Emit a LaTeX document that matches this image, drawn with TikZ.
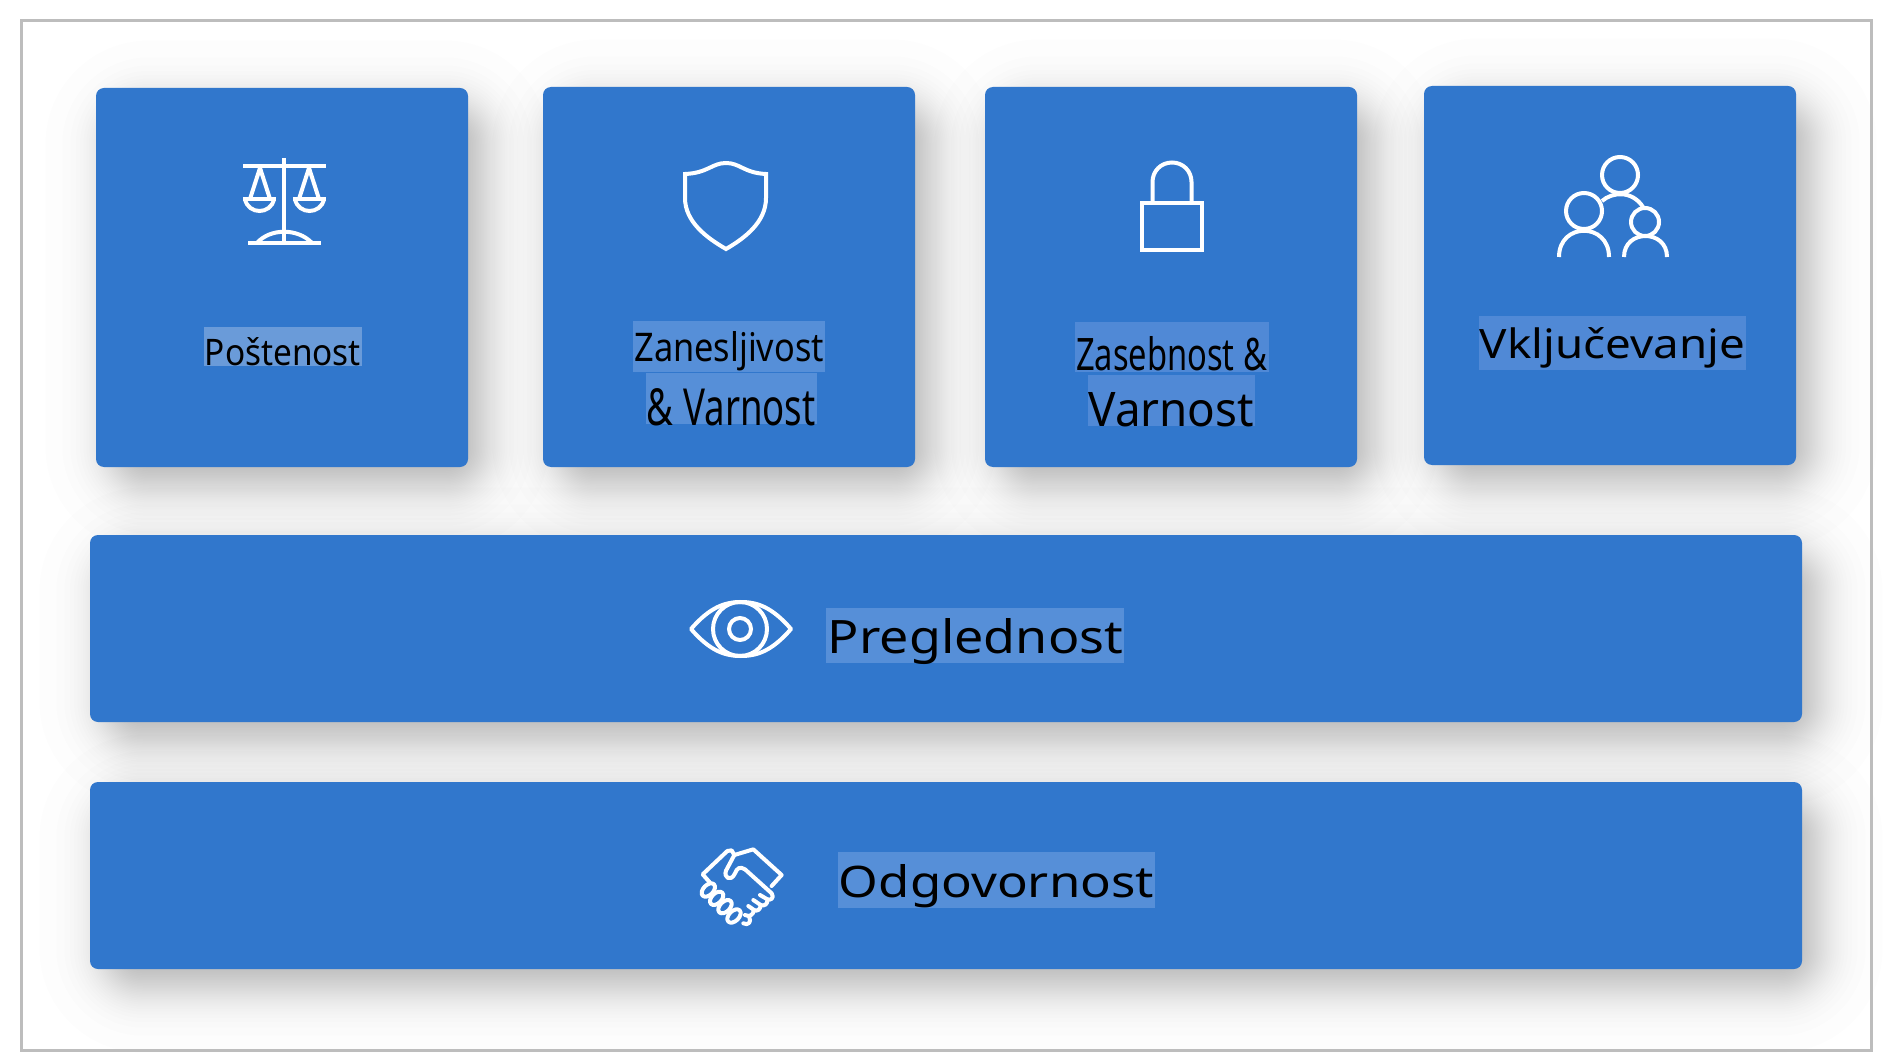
\documentclass[tikz,border=0pt]{standalone}
\usepackage{graphicx}
\usepackage{fontspec}
\setmainfont{Noto Sans}
\definecolor{cardblue}{HTML}{3177CC}
\definecolor{framegray}{HTML}{BDBDBD}
\definecolor{hlA}{HTML}{6A9BD9}
\definecolor{hlB}{HTML}{568FD8}
\definecolor{hlC}{HTML}{5089D6}
\tikzset{
  card/.style={fill=cardblue,draw=none,rounded corners=8pt,inner sep=0pt,outer sep=0pt},
  icon/.style={draw=white,line width=4pt,fill=none},
  lbl/.style={inner sep=0pt,outer sep=0pt,anchor=base,text=black},
}
% x0 y0 x1 y1
\newcommand\softshadow[4]{%
  \foreach \i in {1,...,40}{%
    \pgfmathsetmacro\e{15*ln((\i-0.5)/(40.5-\i))}%
    \pgfmathsetmacro\r{max(3,38+\e)}%
    \fill[black,opacity=0.0075,rounded corners=\r pt]
      ({#1+15-\e},{#2+18-\e}) rectangle ({#3+15+\e},{#4+18+\e});
  }%
}
% name x0 y0 x1 y1
\newcommand\cardbox[5]{%
  \node[card,minimum width={#4-#2},minimum height={#5-#3}] (#1) at ({(#2+#4)/2},{(#3+#5)/2}) {};%
}
% name colour x0 y0 x1 y1 (highlight)
\newcommand\hilite[6]{%
  \node[fill=#2,inner sep=0pt,outer sep=0pt,minimum width={#5-#3},minimum height={#6-#4}] (#1) at ({(#3+#5)/2},{(#4+#6)/2}) {};%
}
% name x0 x1 top baseline text
\newcommand\fittext[6]{%
  \pgfmathsetmacro\tw{#3-#2}\pgfmathsetmacro\th{#5-#4}%
  \node[lbl] (#1) at ({(#2+#3)/2},#5) {\resizebox{\tw pt}{\th pt}{#6}};%
}
\begin{document}
\begin{tikzpicture}[x=1pt,y=-1pt]
\useasboundingbox (0,0) rectangle (1892,1064);
\fill[white] (0,0) rectangle (1892,1064);
% shadows
\softshadow{96}{88}{468}{467}
\softshadow{543}{87}{915}{467}
\softshadow{985}{87}{1357}{467}
\softshadow{1424}{86}{1796}{465}
\softshadow{90}{535}{1802}{722}
\softshadow{90}{782}{1802}{969}
% frame
\node[draw=framegray,line width=3pt,inner sep=0pt,minimum width=1850pt,minimum height=1030pt] (frame) at (946.5,535.5) {};
% cards
\cardbox{c1}{96}{88}{468}{467}
\cardbox{c2}{543}{87}{915}{467}
\cardbox{c3}{985}{87}{1357}{467}
\cardbox{c4}{1424}{86}{1796}{465}
\cardbox{b1}{90}{535}{1802}{722}
\cardbox{b2}{90}{782}{1802}{969}
% highlights
\hilite{h1}{hlA}{204}{327}{362}{366}
\hilite{h2a}{hlB}{633}{321}{825}{372}
\hilite{h2b}{hlB}{646}{373}{817}{424}
\hilite{h3a}{hlC}{1075}{322}{1269}{372}
\hilite{h3b}{hlC}{1088}{375}{1255}{426}
\hilite{h4}{hlC}{1479}{316}{1746}{370}
\hilite{h5}{hlB}{826}{608}{1124}{663}
\hilite{h6}{hlB}{838}{852}{1155}{908}
% labels
\fittext{t1}{205}{361}{338}{366}{Poštenost}
\fittext{t2a}{634.5}{824}{332}{362}{Zanesljivost}
\fittext{t2b}{647}{815.5}{388}{425}{\& Varnost}
\fittext{t3a}{1076}{1267}{336}{370}{Zasebnost \&}
\fittext{t3b}{1088.5}{1254}{392}{426}{Varnost}
\fittext{t4}{1480}{1745}{328}{359}{Vključevanje}
\fittext{t5}{828}{1123}{618}{653}{Preglednost}
\fittext{t6}{839}{1154}{864}{897}{Odgovornost}
% scales
\begin{scope}[icon,line cap=butt]
  \draw (284,158) -- (284,243);
  \draw (243,166) -- (326,166);
  \draw (260,168) -- (250,199);
  \draw (260,168) -- (270,199);
  \draw (243,199) -- (276,199);
  \draw (245,199) .. controls (248,215) and (271,215) .. (274,199);
  \draw (309,168) -- (299,199);
  \draw (309,168) -- (319,199);
  \draw (293,199) -- (326,199);
  \draw (295,199) .. controls (298,215) and (321,215) .. (324,199);
  \draw (248,243) -- (321,243);
  \draw (257,243) .. controls (270,228) and (298,228) .. (312,243);
\end{scope}
% shield
\draw[icon,miter limit=10] (685,174) .. controls (708,173) and (712,163) .. (726,163)
  .. controls (740,163) and (744,173) .. (766,174) -- (766,198)
  .. controls (766,222) and (745,238) .. (726,249)
  .. controls (707,238) and (685,222) .. (685,198) -- cycle;
% lock
\draw[icon] (1142,203) rectangle (1202,250);
\draw[icon] (1152.5,203) -- (1152.5,182) .. controls (1152.5,171) and (1161,162.5) .. (1172,162.5)
  .. controls (1183,162.5) and (1191.5,171) .. (1191.5,182) -- (1191.5,203);
% people
\draw[icon] (1620,175) circle[radius=18];
\draw[icon] (1584,211) circle[radius=18];
\draw[icon] (1645,222) circle[radius=14];
\draw[icon] (1559,257) .. controls (1559,222) and (1609,222) .. (1609,257);
\draw[icon] (1624,257) .. controls (1624,229) and (1667,229) .. (1667,257);
\draw[icon] (1602,201) .. controls (1612,192) and (1632,190) .. (1643,207);
% eye
\draw[icon,line join=round] (691,629) .. controls (710,607) and (725,602) .. (741,602)
  .. controls (757,602) and (772,607) .. (791,629)
  .. controls (772,651) and (757,656) .. (741,656)
  .. controls (725,656) and (710,651) .. (691,629) -- cycle;
\draw[icon] (740,629) circle[radius=11];
\draw[icon] (740,629) circle[radius=27];
% handshake
\begin{scope}[shift={(690,840)},x=0.3333pt,y=-0.3333pt,icon,line join=round,line cap=round]
  \draw (60,128) -- (38,103) -- (112,33) -- (125,31) -- (133,45) -- (190,28) -- (275,105) -- (245,138);
  \draw (133,45) -- (108,92) .. controls (100,112) and (122,128) .. (135,100)
     .. controls (140,85) and (150,78) .. (165,88) -- (245,160)
     .. controls (255,175) and (240,182) .. (232,178) -- (210,165);
  \draw (232,178) .. controls (235,192) and (222,200) .. (212,195) -- (190,180);
  \draw (212,195) .. controls (212,210) and (200,215) .. (192,210) -- (175,198);
  \draw (192,210) .. controls (190,225) and (178,232) .. (165,225);
  \draw (178,232) .. controls (185,245) and (175,258) .. (160,250);
  \draw[rotate around={45:(55,150)}] (55,150) ellipse[x radius=24,y radius=15];
  \draw[rotate around={45:(80,175)}] (80,175) ellipse[x radius=24,y radius=15];
  \draw[rotate around={45:(105,200)}] (105,200) ellipse[x radius=24,y radius=15];
  \draw[rotate around={45:(132,228)}] (132,228) ellipse[x radius=24,y radius=15];
\end{scope}
\end{tikzpicture}
\end{document}
